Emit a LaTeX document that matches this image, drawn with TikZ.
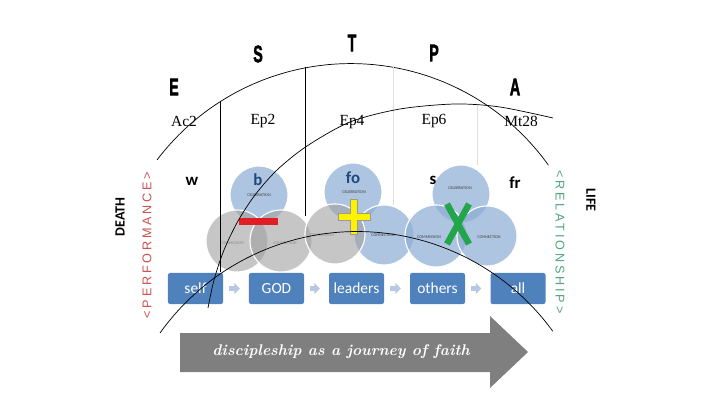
\documentclass[tikz,border=0pt]{standalone}
\usepackage{fontspec}
\newfontfamily\calfont{Carlito}
\newfontfamily\headfont{Liberation Sans}[FakeBold=2.5]
\newfontfamily\versefont{Liberation Serif}
\newfontfamily\spacedfont{Liberation Sans}[LetterSpace=22]
\usetikzlibrary{arrows.meta}

\definecolor{boxblue}{RGB}{79,129,189}
\definecolor{stepblue}{RGB}{182,200,228}
\definecolor{circblue}{RGB}{140,172,212}
\definecolor{circgray}{RGB}{160,160,160}
\definecolor{perfred}{RGB}{205,80,80}
\definecolor{relgreen}{RGB}{80,165,125}
\definecolor{minusred}{RGB}{225,30,35}
\definecolor{crossgreen}{RGB}{35,165,75}
\definecolor{arrowgray}{RGB}{127,127,127}
\definecolor{seedblue}{RGB}{31,73,125}

\tikzset{
  stagebox/.style={fill=boxblue, rounded corners=1.5pt, minimum width=1.375cm,
    minimum height=0.775cm, inner sep=0pt, text=white,
    font=\calfont\fontsize{11}{12}\selectfont},
  stagearrow/.style={draw=stepblue, line width=0.11cm,
    -{Triangle[length=0.14cm,width=0.27cm]}, shorten <=0.15cm, shorten >=0.22cm},
  bluering/.style={fill=circblue, fill opacity=0.7, draw=white, line width=0.8pt},
  grayring/.style={fill=circgray, fill opacity=0.6, draw=white, line width=0.8pt},
  ringlabel/.style={font=\calfont\fontsize{3}{3.5}\selectfont, text=black!75, inner sep=0pt},
  headletter/.style={font=\headfont\bfseries\fontsize{17}{17}\selectfont, xscale=0.6, inner sep=0pt},
  verse/.style={font=\versefont\fontsize{11}{12}\selectfont, inner sep=0pt},
  seedletter/.style={font=\calfont\bfseries\fontsize{12}{12}\selectfont, inner sep=0pt},
  sideword/.style={font=\calfont\bfseries\fontsize{10}{10}\selectfont, inner sep=0pt},
  journeyline/.style={black, line width=0.5pt}
}

\begin{document}
\begin{tikzpicture}[x=0.025cm, y=-0.025cm]
\useasboundingbox (0,0) rectangle (720,405);

% heading letters and verses
\node[headletter] (e) at (174,87) {E};
\node[headletter] (s) at (258,54) {S};
\node[headletter] (t) at (352,43) {T};
\node[headletter] (p) at (434,53) {P};
\node[headletter] (a) at (515,87) {A};

\node[verse] (ac2) at (184,121) {Ac2};
\node[verse] (ep2) at (263,121) {Ep2};
\node[verse] (ep4) at (352,122) {Ep4};
\node[verse] (ep6) at (434,121) {Ep6};
\node[verse] (mt28) at (521,121) {Mt28};

% venn groups
\draw[bluering] (259,195) circle (29);
\draw[grayring] (237,241) circle (31);
\draw[grayring] (281,241) circle (31);

\draw[bluering] (353,192) circle (29);
\draw[bluering] (384,235) circle (30);
\draw[grayring] (335,234) circle (30);

\draw[bluering] (461,194) circle (29);
\draw[bluering] (436,236) circle (31);
\draw[bluering] (487,236) circle (30);

\node[ringlabel] (cel1) at (259,195) {CELEBRATION};
\node[ringlabel, text=black!45] (com1) at (232,243) {COMMISSION};
\node[ringlabel, text=black!45] (con1) at (285,243) {CONNECTION};
\node[ringlabel] (cel2) at (354,192) {CELEBRATION};
\node[ringlabel, text=black!45] (com2) at (322,235) {COMMISSION};
\node[ringlabel] (con2) at (383,235) {CONNECTION};
\node[ringlabel] (cel3) at (460,188) {CELEBRATION};
\node[ringlabel] (com3) at (429,237) {COMMISSION};
\node[ringlabel] (con3) at (489,237) {CONNECTION};

% minus, plus, cross
\fill[minusred] (239,218) rectangle (278,225);
\filldraw[fill=yellow, draw=black!40, line width=0.3pt]
  (350,199) -- (357,199) -- (357,213) -- (370,213) -- (370,220) -- (357,220)
  -- (357,234) -- (350,234) -- (350,220) -- (338,220) -- (338,213) -- (350,213) -- cycle;
\draw[crossgreen, line width=0.16cm] (447,204) -- (469,244);
\draw[crossgreen, line width=0.16cm] (469,204) -- (447,244);

\node[seedletter] (w) at (192,181) {w};
\node[seedletter, text=seedblue] (b) at (258,180) {b};
\node[seedletter, text=seedblue] (fo) at (353,178) {fo};
\node[seedletter] (sv) at (433,180) {s};
\node[seedletter] (fr) at (515,183) {fr};

% stages
\node[stagebox] (self) at (195.5,288.5) {self};
\node[stagebox] (god) at (276.5,288.5) {GOD};
\node[stagebox] (leaders) at (356.5,288.5) {leaders};
\node[stagebox] (others) at (437.5,288.5) {others};
\node[stagebox] (all) at (518,288.5) {all};
\draw[stagearrow] (self) -- (god);
\draw[stagearrow] (god) -- (leaders);
\draw[stagearrow] (leaders) -- (others);
\draw[stagearrow] (others) -- (all);

% side words
\node[sideword, rotate=90] (death) at (120,217) {DEATH};
\node[rotate=90, inner sep=0pt, text=perfred, font=\spacedfont\fontsize{9}{9}\selectfont] (perf) at (147,245) {<PERFORMANCE>};
\node[rotate=-90, inner sep=0pt, text=relgreen, font=\spacedfont\fontsize{9}{9}\selectfont] (rel) at (560,242) {<RELATIONSHIP>};
\node[sideword, rotate=-90] (life) at (591,200) {LIFE};

% journey lines
\draw[journeyline] (157,160) arc[start angle=-142.9, end angle=-35.6, radius=243];
\draw[journeyline] (220,101) -- (220,272);
\draw[journeyline] (305,67) -- (305,216);
\draw[black!12, line width=0.4pt] (393,67) -- (393,205);
\draw[black!12, line width=0.4pt] (477,104) -- (477,165);
\draw[journeyline] plot[smooth] coordinates {(553,118) (500,107) (455,104) (400,109) (350,122)
  (307,146) (277,170) (255,195) (238,221) (224,250) (214,280) (208,308)};
\draw[journeyline] (160,333) arc[start angle=-144.5, end angle=-36, radius=242];

% big arrow
\fill[arrowgray] (180,333) -- (490,333) -- (490,316) -- (528,352) -- (490,388)
  -- (490,372) -- (180,372) -- cycle;
\node[text=white, font=\bfseries\itshape\fontsize{11}{12}\selectfont] (faith) at (341,352)
  {discipleship as a journey of faith};
\end{tikzpicture}
\end{document}
